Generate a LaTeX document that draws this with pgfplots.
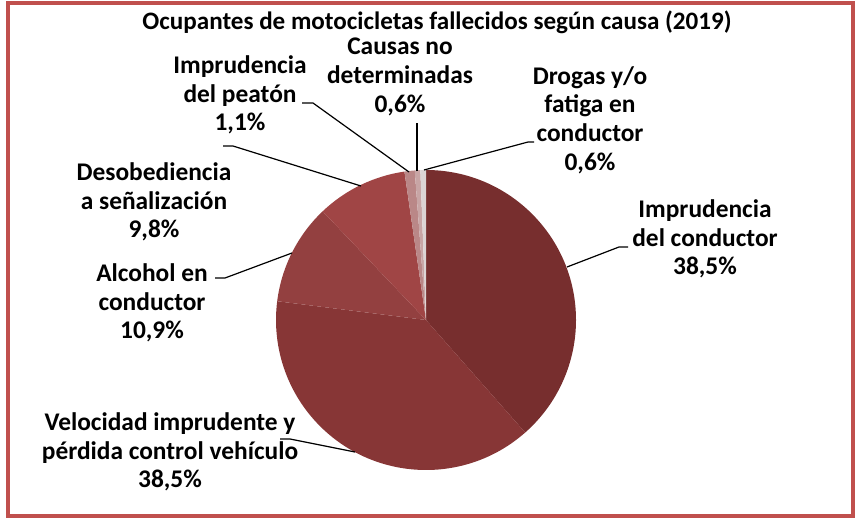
\documentclass[border=0pt]{standalone}
\usepackage{pgfplots}
\pgfplotsset{compat=1.18}
\usepackage{pgfplotstable}
\usepackage{fontspec}
\setmainfont{Carlito}

\definecolor{frame}{HTML}{C0504D}
\definecolor{c1}{HTML}{772E2E}
\definecolor{c2}{HTML}{873636}
\definecolor{c3}{HTML}{934040}
\definecolor{c4}{HTML}{A04545}
\definecolor{c5}{HTML}{BA8787}
\definecolor{c6}{HTML}{C8A5A5}
\definecolor{c7}{HTML}{DCD4D4}

\tikzset{lbl/.style={font=\fontsize{25.5}{28.8}\selectfont\bfseries, align=center, inner sep=0pt}}

% share (%) and colour of each slice, clockwise from the top
\pgfplotstableread{
value color
38.5 c1
38.5 c2
10.9 c3
9.8 c4
1.1 c5
0.6 c6
0.6 c7
}\piedata

\begin{document}
\begin{tikzpicture}
\begin{axis}[
    scale only axis,
    width=856bp, height=519bp,
    xmin=0, xmax=856, ymin=0, ymax=519,
    y dir=reverse,
    hide axis, clip=false,
]
% page extent
\path (axis cs:0,0) rectangle (axis cs:856,519);

% slices
\xdef\cum{0}
\pgfplotstableforeachcolumnelement{value}\of\piedata\as\v{%
  \pgfplotstablegetelem{\pgfplotstablerow}{color}\of\piedata
  \let\slicecol\pgfplotsretval
  \pgfmathsetmacro\sa{90-3.6*\cum}%
  \pgfmathsetmacro\da{-3.6*\v}%
  \edef\next{\noexpand\fill[\slicecol] (axis cs:426,320) -- ++(\sa:150bp)
    arc[start angle=\sa, delta angle=\da, radius=150bp] -- cycle;}%
  \next
  \pgfmathsetmacro\tmp{\cum+\v}\xdef\cum{\tmp}%
}

% frame
\draw[frame, line width=4bp] (axis cs:8,3.5) rectangle (axis cs:853,516);

% title
\node[lbl, font=\fontsize{25.2}{28.8}\selectfont\bfseries] at (axis cs:437,22) {Ocupantes de motocicletas fallecidos según causa (2019)};

% leader lines
\draw[line width=1.2bp] (axis cs:567,267) -- (axis cs:619,247) -- (axis cs:628,247);
\draw[line width=1.2bp] (axis cs:424,170) -- (axis cs:528,142) -- (axis cs:534,142);
\draw[line width=1.2bp] (axis cs:417,171) -- (axis cs:417,123);
\draw[line width=1.2bp] (axis cs:409,172) -- (axis cs:313,103) -- (axis cs:302,103);
\draw[line width=1.2bp] (axis cs:361,186) -- (axis cs:233,146) -- (axis cs:223,146);
\draw[line width=1.2bp] (axis cs:292,253) -- (axis cs:225,278) -- (axis cs:215,278);
\draw[line width=1.2bp] (axis cs:355,452) -- (axis cs:290,439) -- (axis cs:280,439);

% labels
\node[lbl] at (axis cs:705,239) {Imprudencia\\del conductor\\38,5\%};
\node[lbl] at (axis cs:590,120) {Drogas y/o\\fatiga en\\conductor\\0,6\%};
\node[lbl] at (axis cs:400,77) {Causas no\\determinadas\\0,6\%};
\node[lbl] at (axis cs:240,95) {Imprudencia\\del peatón\\1,1\%};
\node[lbl] at (axis cs:154,202) {Desobediencia\\a señalización\\9,8\%};
\node[lbl] at (axis cs:152,303) {Alcohol en\\conductor\\10,9\%};
\node[lbl] at (axis cs:170,452) {Velocidad imprudente y\\pérdida control vehículo\\38,5\%};
\end{axis}
\end{tikzpicture}
\end{document}
